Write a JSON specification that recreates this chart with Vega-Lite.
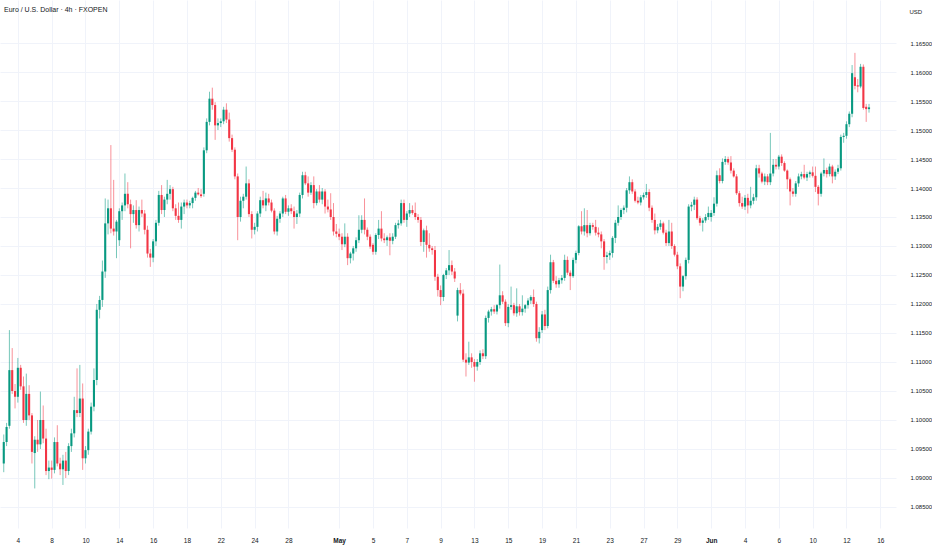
{
  "$schema": "https://vega.github.io/schema/vega-lite/v6.json",
  "width": 896,
  "height": 528,
  "autosize": "none",
  "padding": {"left": 0, "top": 0, "right": 36, "bottom": 22},
  "background": "#ffffff",
  "title": {
    "text": "Euro / U.S. Dollar · 4h · FXOPEN",
    "anchor": "start",
    "frame": "group",
    "orient": "top",
    "font": "Liberation Sans Narrow, Liberation Sans, sans-serif",
    "fontSize": 7,
    "fontWeight": "normal",
    "color": "#131722",
    "baseline": "middle",
    "offset": -17,
    "dx": 4
  },
  "config": {
    "view": {"stroke": null},
    "axis": {
      "labelFont": "Liberation Sans Narrow, Liberation Sans, sans-serif",
      "titleFont": "Liberation Sans Narrow, Liberation Sans, sans-serif",
      "labelFontSize": 6.5,
      "labelColor": "#131722",
      "gridColor": "#f0f3fa",
      "gridWidth": 1,
      "ticks": false,
      "domain": false
    }
  },
  "data": {
    "values": [
      {"i": -5, "o": 1.0925, "h": 1.0975, "l": 1.0910, "c": 1.0962},
      {"i": -4, "o": 1.0962, "h": 1.0995, "l": 1.0955, "c": 1.0988},
      {"i": -3, "o": 1.0990, "h": 1.1155, "l": 1.0985, "c": 1.1086},
      {"i": -2, "o": 1.1086, "h": 1.1124, "l": 1.1045, "c": 1.1050},
      {"i": -1, "o": 1.1050, "h": 1.1062, "l": 1.1020, "c": 1.1040},
      {"i": 0, "o": 1.1040, "h": 1.1107, "l": 1.1030, "c": 1.1090},
      {"i": 1, "o": 1.1090, "h": 1.1095, "l": 1.1052, "c": 1.1058},
      {"i": 2, "o": 1.1058, "h": 1.1075, "l": 1.0995, "c": 1.1000},
      {"i": 3, "o": 1.1000, "h": 1.1080, "l": 1.0990, "c": 1.1045},
      {"i": 4, "o": 1.1045, "h": 1.1060, "l": 1.1000, "c": 1.1008},
      {"i": 5, "o": 1.1008, "h": 1.1012, "l": 1.0925, "c": 1.0945},
      {"i": 6, "o": 1.0943, "h": 1.0972, "l": 1.0882, "c": 1.0966},
      {"i": 7, "o": 1.0966, "h": 1.1000, "l": 1.0945, "c": 1.0958},
      {"i": 8, "o": 1.0958, "h": 1.1049, "l": 1.0950, "c": 1.1000},
      {"i": 9, "o": 1.1000, "h": 1.1025, "l": 1.0960, "c": 1.0968},
      {"i": 10, "o": 1.0968, "h": 1.0985, "l": 1.0905, "c": 1.0912},
      {"i": 11, "o": 1.0912, "h": 1.0930, "l": 1.0898, "c": 1.0918},
      {"i": 12, "o": 1.0918, "h": 1.0930, "l": 1.0899, "c": 1.0914},
      {"i": 13, "o": 1.0914, "h": 1.0970, "l": 1.0908, "c": 1.0962},
      {"i": 14, "o": 1.0962, "h": 1.0991, "l": 1.0920, "c": 1.0925},
      {"i": 15, "o": 1.0925, "h": 1.0935, "l": 1.0905, "c": 1.0915},
      {"i": 16, "o": 1.0915, "h": 1.0940, "l": 1.0888, "c": 1.0930},
      {"i": 17, "o": 1.0930, "h": 1.0945, "l": 1.0900, "c": 1.0912},
      {"i": 18, "o": 1.0912, "h": 1.0960, "l": 1.0905, "c": 1.0955},
      {"i": 19, "o": 1.0955, "h": 1.0985, "l": 1.0945, "c": 1.0977},
      {"i": 20, "o": 1.0977, "h": 1.1040, "l": 1.0970, "c": 1.1017},
      {"i": 21, "o": 1.1017, "h": 1.1089, "l": 1.1005, "c": 1.1012},
      {"i": 22, "o": 1.1012, "h": 1.1095, "l": 1.1005, "c": 1.1037},
      {"i": 23, "o": 1.1037, "h": 1.1063, "l": 1.0914, "c": 1.0934},
      {"i": 24, "o": 1.0934, "h": 1.0955, "l": 1.0925, "c": 1.0948},
      {"i": 25, "o": 1.0948, "h": 1.0985, "l": 1.0940, "c": 1.0980},
      {"i": 26, "o": 1.0980, "h": 1.1030, "l": 1.0975, "c": 1.1023},
      {"i": 27, "o": 1.1023, "h": 1.1089, "l": 1.1015, "c": 1.1069},
      {"i": 28, "o": 1.1069, "h": 1.1200, "l": 1.1060, "c": 1.1190},
      {"i": 29, "o": 1.1190, "h": 1.1214, "l": 1.1175, "c": 1.1207},
      {"i": 30, "o": 1.1207, "h": 1.1275, "l": 1.1195, "c": 1.1256},
      {"i": 31, "o": 1.1256, "h": 1.1382, "l": 1.1245, "c": 1.1339},
      {"i": 32, "o": 1.1339, "h": 1.1380, "l": 1.1320, "c": 1.1365},
      {"i": 33, "o": 1.1365, "h": 1.1474, "l": 1.1322, "c": 1.1330},
      {"i": 34, "o": 1.1330, "h": 1.1414, "l": 1.1318, "c": 1.1325},
      {"i": 35, "o": 1.1325, "h": 1.1345, "l": 1.1279, "c": 1.1342},
      {"i": 36, "o": 1.1310, "h": 1.1365, "l": 1.1300, "c": 1.1360},
      {"i": 37, "o": 1.1360, "h": 1.1375, "l": 1.1345, "c": 1.1370},
      {"i": 38, "o": 1.1370, "h": 1.1425, "l": 1.1360, "c": 1.1390},
      {"i": 39, "o": 1.1390, "h": 1.1410, "l": 1.1365, "c": 1.1372},
      {"i": 40, "o": 1.1372, "h": 1.1380, "l": 1.1296, "c": 1.1355},
      {"i": 41, "o": 1.1355, "h": 1.1370, "l": 1.1340, "c": 1.1362},
      {"i": 42, "o": 1.1362, "h": 1.1379, "l": 1.1330, "c": 1.1336},
      {"i": 43, "o": 1.1336, "h": 1.1368, "l": 1.1325, "c": 1.1362},
      {"i": 44, "o": 1.1362, "h": 1.1380, "l": 1.1350, "c": 1.1356},
      {"i": 45, "o": 1.1356, "h": 1.1362, "l": 1.1320, "c": 1.1328},
      {"i": 46, "o": 1.1328, "h": 1.1335, "l": 1.1280, "c": 1.1287},
      {"i": 47, "o": 1.1287, "h": 1.1295, "l": 1.1264, "c": 1.1280},
      {"i": 48, "o": 1.1280, "h": 1.1312, "l": 1.1272, "c": 1.1308},
      {"i": 49, "o": 1.1308, "h": 1.1345, "l": 1.1300, "c": 1.1340},
      {"i": 50, "o": 1.1340, "h": 1.1395, "l": 1.1335, "c": 1.1388},
      {"i": 51, "o": 1.1388, "h": 1.1405, "l": 1.1355, "c": 1.1362},
      {"i": 52, "o": 1.1362, "h": 1.1385, "l": 1.1350, "c": 1.1380},
      {"i": 53, "o": 1.1380, "h": 1.1414, "l": 1.1372, "c": 1.1390},
      {"i": 54, "o": 1.1390, "h": 1.1405, "l": 1.1380, "c": 1.1398},
      {"i": 55, "o": 1.1398, "h": 1.1402, "l": 1.1360, "c": 1.1365},
      {"i": 56, "o": 1.1365, "h": 1.1372, "l": 1.1345, "c": 1.1352},
      {"i": 57, "o": 1.1352, "h": 1.1375, "l": 1.1340, "c": 1.1345},
      {"i": 58, "o": 1.1345, "h": 1.1375, "l": 1.1330, "c": 1.1368},
      {"i": 59, "o": 1.1368, "h": 1.1380, "l": 1.1355, "c": 1.1375},
      {"i": 60, "o": 1.1375, "h": 1.1380, "l": 1.1365, "c": 1.1370},
      {"i": 61, "o": 1.1370, "h": 1.1378, "l": 1.1365, "c": 1.1374},
      {"i": 62, "o": 1.1374, "h": 1.1385, "l": 1.1365, "c": 1.1383},
      {"i": 63, "o": 1.1383, "h": 1.1395, "l": 1.1378, "c": 1.1392},
      {"i": 64, "o": 1.1392, "h": 1.1400, "l": 1.1387, "c": 1.1389},
      {"i": 65, "o": 1.1389, "h": 1.1398, "l": 1.1383, "c": 1.1386},
      {"i": 66, "o": 1.1390, "h": 1.1470, "l": 1.1385, "c": 1.1465},
      {"i": 67, "o": 1.1465, "h": 1.1520, "l": 1.1460, "c": 1.1514},
      {"i": 68, "o": 1.1514, "h": 1.1566, "l": 1.1508, "c": 1.1554},
      {"i": 69, "o": 1.1554, "h": 1.1573, "l": 1.1535, "c": 1.1543},
      {"i": 70, "o": 1.1543, "h": 1.1548, "l": 1.1483, "c": 1.1508},
      {"i": 71, "o": 1.1508, "h": 1.1520, "l": 1.1500, "c": 1.1512},
      {"i": 72, "o": 1.1512, "h": 1.1520, "l": 1.1505, "c": 1.1515},
      {"i": 73, "o": 1.1515, "h": 1.1540, "l": 1.1510, "c": 1.1535},
      {"i": 74, "o": 1.1535, "h": 1.1546, "l": 1.1512, "c": 1.1518},
      {"i": 75, "o": 1.1518, "h": 1.1530, "l": 1.1480, "c": 1.1486},
      {"i": 76, "o": 1.1486, "h": 1.1492, "l": 1.1462, "c": 1.1466},
      {"i": 77, "o": 1.1466, "h": 1.1470, "l": 1.1415, "c": 1.1420},
      {"i": 78, "o": 1.1420, "h": 1.1425, "l": 1.1310, "c": 1.1350},
      {"i": 79, "o": 1.1350, "h": 1.1385, "l": 1.1342, "c": 1.1378},
      {"i": 80, "o": 1.1378, "h": 1.1390, "l": 1.1365, "c": 1.1385},
      {"i": 81, "o": 1.1385, "h": 1.1437, "l": 1.1380, "c": 1.1408},
      {"i": 82, "o": 1.1408, "h": 1.1415, "l": 1.1350, "c": 1.1355},
      {"i": 83, "o": 1.1355, "h": 1.1360, "l": 1.1313, "c": 1.1328},
      {"i": 84, "o": 1.1328, "h": 1.1340, "l": 1.1320, "c": 1.1333},
      {"i": 85, "o": 1.1333, "h": 1.1360, "l": 1.1325, "c": 1.1356},
      {"i": 86, "o": 1.1356, "h": 1.1385, "l": 1.1350, "c": 1.1379},
      {"i": 87, "o": 1.1379, "h": 1.1395, "l": 1.1365, "c": 1.1370},
      {"i": 88, "o": 1.1370, "h": 1.1392, "l": 1.1360, "c": 1.1382},
      {"i": 89, "o": 1.1382, "h": 1.1390, "l": 1.1370, "c": 1.1375},
      {"i": 90, "o": 1.1375, "h": 1.1380, "l": 1.1358, "c": 1.1361},
      {"i": 91, "o": 1.1361, "h": 1.1365, "l": 1.1320, "c": 1.1325},
      {"i": 92, "o": 1.1325, "h": 1.1352, "l": 1.1318, "c": 1.1347},
      {"i": 93, "o": 1.1347, "h": 1.1360, "l": 1.1340, "c": 1.1356},
      {"i": 94, "o": 1.1356, "h": 1.1385, "l": 1.1350, "c": 1.1382},
      {"i": 95, "o": 1.1382, "h": 1.1388, "l": 1.1355, "c": 1.1359},
      {"i": 96, "o": 1.1359, "h": 1.1370, "l": 1.1352, "c": 1.1365},
      {"i": 97, "o": 1.1365, "h": 1.1372, "l": 1.1355, "c": 1.1360},
      {"i": 98, "o": 1.1360, "h": 1.1368, "l": 1.1330, "c": 1.1350},
      {"i": 99, "o": 1.1350, "h": 1.1362, "l": 1.1338, "c": 1.1356},
      {"i": 100, "o": 1.1356, "h": 1.1392, "l": 1.1350, "c": 1.1388},
      {"i": 101, "o": 1.1388, "h": 1.1428, "l": 1.1382, "c": 1.1422},
      {"i": 102, "o": 1.1422, "h": 1.1428, "l": 1.1405, "c": 1.1408},
      {"i": 103, "o": 1.1408, "h": 1.1420, "l": 1.1385, "c": 1.1392},
      {"i": 104, "o": 1.1392, "h": 1.1410, "l": 1.1388, "c": 1.1405},
      {"i": 105, "o": 1.1405, "h": 1.1420, "l": 1.1365, "c": 1.1374},
      {"i": 106, "o": 1.1374, "h": 1.1398, "l": 1.1370, "c": 1.1394},
      {"i": 107, "o": 1.1394, "h": 1.1405, "l": 1.1375, "c": 1.1380},
      {"i": 108, "o": 1.1380, "h": 1.1400, "l": 1.1372, "c": 1.1394},
      {"i": 109, "o": 1.1394, "h": 1.1398, "l": 1.1356, "c": 1.1368},
      {"i": 110, "o": 1.1368, "h": 1.1380, "l": 1.1358, "c": 1.1363},
      {"i": 111, "o": 1.1363, "h": 1.1391, "l": 1.1345, "c": 1.1350},
      {"i": 112, "o": 1.1350, "h": 1.1374, "l": 1.1318, "c": 1.1325},
      {"i": 113, "o": 1.1325, "h": 1.1338, "l": 1.1315, "c": 1.1321},
      {"i": 114, "o": 1.1321, "h": 1.1330, "l": 1.1310, "c": 1.1316},
      {"i": 115, "o": 1.1316, "h": 1.1322, "l": 1.1293, "c": 1.1303},
      {"i": 116, "o": 1.1303, "h": 1.1339, "l": 1.1298, "c": 1.1316},
      {"i": 117, "o": 1.1316, "h": 1.1322, "l": 1.1267, "c": 1.1279},
      {"i": 118, "o": 1.1279, "h": 1.1290, "l": 1.1270, "c": 1.1287},
      {"i": 119, "o": 1.1287, "h": 1.1300, "l": 1.1275, "c": 1.1296},
      {"i": 120, "o": 1.1296, "h": 1.1315, "l": 1.1290, "c": 1.1310},
      {"i": 121, "o": 1.1310, "h": 1.1353, "l": 1.1305, "c": 1.1328},
      {"i": 122, "o": 1.1328, "h": 1.1353, "l": 1.1322, "c": 1.1345},
      {"i": 123, "o": 1.1345, "h": 1.1382, "l": 1.1320, "c": 1.1328},
      {"i": 124, "o": 1.1328, "h": 1.1332, "l": 1.1310, "c": 1.1316},
      {"i": 125, "o": 1.1316, "h": 1.1320, "l": 1.1295, "c": 1.1299},
      {"i": 126, "o": 1.1302, "h": 1.1305, "l": 1.1285, "c": 1.1290},
      {"i": 127, "o": 1.1290, "h": 1.1322, "l": 1.1285, "c": 1.1319},
      {"i": 128, "o": 1.1319, "h": 1.1345, "l": 1.1312, "c": 1.1330},
      {"i": 129, "o": 1.1330, "h": 1.1360, "l": 1.1308, "c": 1.1313},
      {"i": 130, "o": 1.1313, "h": 1.1322, "l": 1.1305, "c": 1.1310},
      {"i": 131, "o": 1.1310, "h": 1.1318, "l": 1.1300, "c": 1.1315},
      {"i": 132, "o": 1.1315, "h": 1.1322, "l": 1.1284, "c": 1.1309},
      {"i": 133, "o": 1.1309, "h": 1.1322, "l": 1.1303, "c": 1.1316},
      {"i": 134, "o": 1.1316, "h": 1.1340, "l": 1.1312, "c": 1.1336},
      {"i": 135, "o": 1.1336, "h": 1.1345, "l": 1.1330, "c": 1.1339},
      {"i": 136, "o": 1.1339, "h": 1.1380, "l": 1.1335, "c": 1.1374},
      {"i": 137, "o": 1.1374, "h": 1.1380, "l": 1.1340, "c": 1.1345},
      {"i": 138, "o": 1.1345, "h": 1.1360, "l": 1.1333, "c": 1.1356},
      {"i": 139, "o": 1.1356, "h": 1.1374, "l": 1.1350, "c": 1.1362},
      {"i": 140, "o": 1.1362, "h": 1.1370, "l": 1.1354, "c": 1.1357},
      {"i": 141, "o": 1.1357, "h": 1.1375, "l": 1.1345, "c": 1.1350},
      {"i": 142, "o": 1.1350, "h": 1.1355, "l": 1.1340, "c": 1.1345},
      {"i": 143, "o": 1.1345, "h": 1.1350, "l": 1.1300, "c": 1.1307},
      {"i": 144, "o": 1.1307, "h": 1.1330, "l": 1.1290, "c": 1.1327},
      {"i": 145, "o": 1.1327, "h": 1.1335, "l": 1.1280, "c": 1.1302},
      {"i": 146, "o": 1.1302, "h": 1.1322, "l": 1.1290, "c": 1.1296},
      {"i": 147, "o": 1.1296, "h": 1.1300, "l": 1.1285, "c": 1.1293},
      {"i": 148, "o": 1.1293, "h": 1.1300, "l": 1.1240, "c": 1.1247},
      {"i": 149, "o": 1.1247, "h": 1.1252, "l": 1.1213, "c": 1.1224},
      {"i": 150, "o": 1.1224, "h": 1.1232, "l": 1.1198, "c": 1.1212},
      {"i": 151, "o": 1.1212, "h": 1.1252, "l": 1.1205, "c": 1.1250},
      {"i": 152, "o": 1.1250, "h": 1.1262, "l": 1.1243, "c": 1.1258},
      {"i": 153, "o": 1.1258, "h": 1.1293, "l": 1.1250, "c": 1.1267},
      {"i": 154, "o": 1.1267, "h": 1.1275, "l": 1.1250, "c": 1.1256},
      {"i": 155, "o": 1.1256, "h": 1.1262, "l": 1.1238, "c": 1.1244},
      {"i": 156, "o": 1.1180, "h": 1.1228, "l": 1.1170, "c": 1.1224},
      {"i": 157, "o": 1.1224, "h": 1.1236, "l": 1.1215, "c": 1.1218},
      {"i": 158, "o": 1.1218, "h": 1.1225, "l": 1.1100, "c": 1.1104},
      {"i": 159, "o": 1.1104, "h": 1.1115, "l": 1.1075, "c": 1.1099},
      {"i": 160, "o": 1.1099, "h": 1.1135, "l": 1.1095, "c": 1.1108},
      {"i": 161, "o": 1.1108, "h": 1.1115, "l": 1.1090, "c": 1.1100},
      {"i": 162, "o": 1.1100, "h": 1.1105, "l": 1.1066, "c": 1.1092},
      {"i": 163, "o": 1.1092, "h": 1.1105, "l": 1.1085, "c": 1.1100},
      {"i": 164, "o": 1.1100, "h": 1.1120, "l": 1.1095, "c": 1.1115},
      {"i": 165, "o": 1.1115, "h": 1.1122, "l": 1.1105, "c": 1.1110},
      {"i": 166, "o": 1.1110, "h": 1.1180, "l": 1.1105, "c": 1.1176},
      {"i": 167, "o": 1.1176, "h": 1.1190, "l": 1.1168, "c": 1.1187},
      {"i": 168, "o": 1.1187, "h": 1.1195, "l": 1.1180, "c": 1.1191},
      {"i": 169, "o": 1.1191, "h": 1.1198, "l": 1.1183, "c": 1.1187},
      {"i": 170, "o": 1.1187, "h": 1.1200, "l": 1.1182, "c": 1.1198},
      {"i": 171, "o": 1.1198, "h": 1.1268, "l": 1.1192, "c": 1.1215},
      {"i": 172, "o": 1.1215, "h": 1.1222, "l": 1.1200, "c": 1.1204},
      {"i": 173, "o": 1.1204, "h": 1.1208, "l": 1.1162, "c": 1.1167},
      {"i": 174, "o": 1.1167, "h": 1.1200, "l": 1.1160, "c": 1.1195},
      {"i": 175, "o": 1.1195, "h": 1.1230, "l": 1.1190, "c": 1.1198},
      {"i": 176, "o": 1.1198, "h": 1.1202, "l": 1.1180, "c": 1.1184},
      {"i": 177, "o": 1.1184, "h": 1.1227, "l": 1.1178, "c": 1.1196},
      {"i": 178, "o": 1.1196, "h": 1.1200, "l": 1.1180, "c": 1.1186},
      {"i": 179, "o": 1.1186, "h": 1.1215, "l": 1.1180, "c": 1.1192},
      {"i": 180, "o": 1.1192, "h": 1.1200, "l": 1.1185, "c": 1.1198},
      {"i": 181, "o": 1.1198, "h": 1.1210, "l": 1.1192, "c": 1.1206},
      {"i": 182, "o": 1.1206, "h": 1.1215, "l": 1.1200, "c": 1.1212},
      {"i": 183, "o": 1.1212, "h": 1.1225, "l": 1.1195, "c": 1.1200},
      {"i": 184, "o": 1.1200, "h": 1.1204, "l": 1.1135, "c": 1.1141},
      {"i": 185, "o": 1.1141, "h": 1.1160, "l": 1.1132, "c": 1.1152},
      {"i": 186, "o": 1.1155, "h": 1.1188, "l": 1.1150, "c": 1.1182},
      {"i": 187, "o": 1.1182, "h": 1.1190, "l": 1.1155, "c": 1.1162},
      {"i": 188, "o": 1.1162, "h": 1.1230, "l": 1.1158, "c": 1.1224},
      {"i": 189, "o": 1.1224, "h": 1.1285, "l": 1.1218, "c": 1.1272},
      {"i": 190, "o": 1.1272, "h": 1.1276, "l": 1.1236, "c": 1.1240},
      {"i": 191, "o": 1.1240, "h": 1.1248, "l": 1.1228, "c": 1.1234},
      {"i": 192, "o": 1.1234, "h": 1.1245, "l": 1.1228, "c": 1.1241},
      {"i": 193, "o": 1.1241, "h": 1.1250, "l": 1.1235, "c": 1.1245},
      {"i": 194, "o": 1.1245, "h": 1.1285, "l": 1.1240, "c": 1.1276},
      {"i": 195, "o": 1.1276, "h": 1.1282, "l": 1.1250, "c": 1.1254},
      {"i": 196, "o": 1.1254, "h": 1.1258, "l": 1.1224, "c": 1.1248},
      {"i": 197, "o": 1.1248, "h": 1.1280, "l": 1.1245, "c": 1.1276},
      {"i": 198, "o": 1.1276, "h": 1.1292, "l": 1.1270, "c": 1.1288},
      {"i": 199, "o": 1.1288, "h": 1.1336, "l": 1.1284, "c": 1.1334},
      {"i": 200, "o": 1.1334, "h": 1.1360, "l": 1.1320, "c": 1.1325},
      {"i": 201, "o": 1.1325, "h": 1.1365, "l": 1.1318, "c": 1.1336},
      {"i": 202, "o": 1.1336, "h": 1.1362, "l": 1.1315, "c": 1.1322},
      {"i": 203, "o": 1.1322, "h": 1.1340, "l": 1.1318, "c": 1.1336},
      {"i": 204, "o": 1.1336, "h": 1.1340, "l": 1.1328, "c": 1.1333},
      {"i": 205, "o": 1.1333, "h": 1.1345, "l": 1.1318, "c": 1.1323},
      {"i": 206, "o": 1.1323, "h": 1.1332, "l": 1.1315, "c": 1.1320},
      {"i": 207, "o": 1.1320, "h": 1.1325, "l": 1.1296, "c": 1.1308},
      {"i": 208, "o": 1.1308, "h": 1.1312, "l": 1.1259, "c": 1.1281},
      {"i": 209, "o": 1.1281, "h": 1.1290, "l": 1.1270, "c": 1.1284},
      {"i": 210, "o": 1.1284, "h": 1.1292, "l": 1.1276, "c": 1.1288},
      {"i": 211, "o": 1.1288, "h": 1.1317, "l": 1.1280, "c": 1.1314},
      {"i": 212, "o": 1.1314, "h": 1.1345, "l": 1.1305, "c": 1.1340},
      {"i": 213, "o": 1.1340, "h": 1.1370, "l": 1.1335, "c": 1.1350},
      {"i": 214, "o": 1.1350, "h": 1.1365, "l": 1.1345, "c": 1.1362},
      {"i": 215, "o": 1.1362, "h": 1.1370, "l": 1.1355, "c": 1.1366},
      {"i": 216, "o": 1.1366, "h": 1.1400, "l": 1.1358, "c": 1.1396},
      {"i": 217, "o": 1.1396, "h": 1.1420, "l": 1.1390, "c": 1.1410},
      {"i": 218, "o": 1.1410, "h": 1.1415, "l": 1.1390, "c": 1.1394},
      {"i": 219, "o": 1.1394, "h": 1.1398, "l": 1.1375, "c": 1.1378},
      {"i": 220, "o": 1.1378, "h": 1.1385, "l": 1.1372, "c": 1.1375},
      {"i": 221, "o": 1.1375, "h": 1.1388, "l": 1.1370, "c": 1.1384},
      {"i": 222, "o": 1.1384, "h": 1.1392, "l": 1.1380, "c": 1.1388},
      {"i": 223, "o": 1.1388, "h": 1.1407, "l": 1.1383, "c": 1.1393},
      {"i": 224, "o": 1.1393, "h": 1.1398, "l": 1.1360, "c": 1.1366},
      {"i": 225, "o": 1.1366, "h": 1.1370, "l": 1.1340, "c": 1.1345},
      {"i": 226, "o": 1.1345, "h": 1.1356, "l": 1.1320, "c": 1.1327},
      {"i": 227, "o": 1.1327, "h": 1.1338, "l": 1.1322, "c": 1.1333},
      {"i": 228, "o": 1.1333, "h": 1.1345, "l": 1.1328, "c": 1.1339},
      {"i": 229, "o": 1.1339, "h": 1.1342, "l": 1.1320, "c": 1.1323},
      {"i": 230, "o": 1.1323, "h": 1.1328, "l": 1.1300, "c": 1.1305},
      {"i": 231, "o": 1.1305, "h": 1.1345, "l": 1.1300, "c": 1.1325},
      {"i": 232, "o": 1.1325, "h": 1.1340, "l": 1.1295, "c": 1.1300},
      {"i": 233, "o": 1.1300, "h": 1.1303, "l": 1.1282, "c": 1.1285},
      {"i": 234, "o": 1.1285, "h": 1.1290, "l": 1.1260, "c": 1.1265},
      {"i": 235, "o": 1.1265, "h": 1.1270, "l": 1.1210, "c": 1.1230},
      {"i": 236, "o": 1.1230, "h": 1.1250, "l": 1.1222, "c": 1.1248},
      {"i": 237, "o": 1.1248, "h": 1.1280, "l": 1.1242, "c": 1.1276},
      {"i": 238, "o": 1.1276, "h": 1.1372, "l": 1.1270, "c": 1.1368},
      {"i": 239, "o": 1.1368, "h": 1.1376, "l": 1.1360, "c": 1.1371},
      {"i": 240, "o": 1.1371, "h": 1.1385, "l": 1.1362, "c": 1.1380},
      {"i": 241, "o": 1.1380, "h": 1.1384, "l": 1.1345, "c": 1.1348},
      {"i": 242, "o": 1.1348, "h": 1.1352, "l": 1.1335, "c": 1.1340},
      {"i": 243, "o": 1.1340, "h": 1.1348, "l": 1.1325, "c": 1.1344},
      {"i": 244, "o": 1.1344, "h": 1.1355, "l": 1.1340, "c": 1.1350},
      {"i": 245, "o": 1.1350, "h": 1.1368, "l": 1.1345, "c": 1.1357},
      {"i": 246, "o": 1.1350, "h": 1.1362, "l": 1.1342, "c": 1.1357},
      {"i": 247, "o": 1.1357, "h": 1.1384, "l": 1.1352, "c": 1.1373},
      {"i": 248, "o": 1.1373, "h": 1.1430, "l": 1.1368, "c": 1.1422},
      {"i": 249, "o": 1.1422, "h": 1.1434, "l": 1.1408, "c": 1.1412},
      {"i": 250, "o": 1.1412, "h": 1.1451, "l": 1.1408, "c": 1.1445},
      {"i": 251, "o": 1.1445, "h": 1.1455, "l": 1.1440, "c": 1.1450},
      {"i": 252, "o": 1.1450, "h": 1.1454, "l": 1.1440, "c": 1.1444},
      {"i": 253, "o": 1.1444, "h": 1.1455, "l": 1.1425, "c": 1.1430},
      {"i": 254, "o": 1.1430, "h": 1.1434, "l": 1.1418, "c": 1.1420},
      {"i": 255, "o": 1.1420, "h": 1.1424, "l": 1.1388, "c": 1.1391},
      {"i": 256, "o": 1.1391, "h": 1.1395, "l": 1.1368, "c": 1.1374},
      {"i": 257, "o": 1.1374, "h": 1.1385, "l": 1.1364, "c": 1.1368},
      {"i": 258, "o": 1.1368, "h": 1.1388, "l": 1.1362, "c": 1.1383},
      {"i": 259, "o": 1.1383, "h": 1.1390, "l": 1.1356, "c": 1.1370},
      {"i": 260, "o": 1.1370, "h": 1.1402, "l": 1.1365, "c": 1.1378},
      {"i": 261, "o": 1.1378, "h": 1.1390, "l": 1.1372, "c": 1.1384},
      {"i": 262, "o": 1.1384, "h": 1.1440, "l": 1.1378, "c": 1.1434},
      {"i": 263, "o": 1.1434, "h": 1.1440, "l": 1.1418, "c": 1.1425},
      {"i": 264, "o": 1.1425, "h": 1.1428, "l": 1.1408, "c": 1.1411},
      {"i": 265, "o": 1.1411, "h": 1.1425, "l": 1.1405, "c": 1.1420},
      {"i": 266, "o": 1.1420, "h": 1.1424, "l": 1.1405, "c": 1.1410},
      {"i": 267, "o": 1.1410, "h": 1.1495, "l": 1.1405, "c": 1.1425},
      {"i": 268, "o": 1.1425, "h": 1.1450, "l": 1.1420, "c": 1.1440},
      {"i": 269, "o": 1.1440, "h": 1.1450, "l": 1.1432, "c": 1.1437},
      {"i": 270, "o": 1.1437, "h": 1.1457, "l": 1.1432, "c": 1.1454},
      {"i": 271, "o": 1.1454, "h": 1.1458, "l": 1.1438, "c": 1.1443},
      {"i": 272, "o": 1.1443, "h": 1.1446, "l": 1.1428, "c": 1.1430},
      {"i": 273, "o": 1.1430, "h": 1.1432, "l": 1.1398, "c": 1.1415},
      {"i": 274, "o": 1.1415, "h": 1.1418, "l": 1.1370, "c": 1.1394},
      {"i": 275, "o": 1.1394, "h": 1.1400, "l": 1.1385, "c": 1.1390},
      {"i": 276, "o": 1.1390, "h": 1.1412, "l": 1.1385, "c": 1.1408},
      {"i": 277, "o": 1.1408, "h": 1.1425, "l": 1.1402, "c": 1.1420},
      {"i": 278, "o": 1.1420, "h": 1.1428, "l": 1.1415, "c": 1.1424},
      {"i": 279, "o": 1.1424, "h": 1.1440, "l": 1.1415, "c": 1.1418},
      {"i": 280, "o": 1.1418, "h": 1.1428, "l": 1.1412, "c": 1.1424},
      {"i": 281, "o": 1.1424, "h": 1.1430, "l": 1.1418, "c": 1.1427},
      {"i": 282, "o": 1.1427, "h": 1.1437, "l": 1.1418, "c": 1.1421},
      {"i": 283, "o": 1.1421, "h": 1.1437, "l": 1.1393, "c": 1.1402},
      {"i": 284, "o": 1.1402, "h": 1.1405, "l": 1.1370, "c": 1.1390},
      {"i": 285, "o": 1.1390, "h": 1.1428, "l": 1.1385, "c": 1.1425},
      {"i": 286, "o": 1.1425, "h": 1.1451, "l": 1.1420, "c": 1.1431},
      {"i": 287, "o": 1.1431, "h": 1.1435, "l": 1.1418, "c": 1.1424},
      {"i": 288, "o": 1.1424, "h": 1.1442, "l": 1.1420, "c": 1.1437},
      {"i": 289, "o": 1.1437, "h": 1.1440, "l": 1.1408, "c": 1.1420},
      {"i": 290, "o": 1.1420, "h": 1.1432, "l": 1.1414, "c": 1.1428},
      {"i": 291, "o": 1.1428, "h": 1.1440, "l": 1.1424, "c": 1.1434},
      {"i": 292, "o": 1.1434, "h": 1.1492, "l": 1.1430, "c": 1.1488},
      {"i": 293, "o": 1.1488, "h": 1.1495, "l": 1.1478, "c": 1.1490},
      {"i": 294, "o": 1.1490, "h": 1.1515, "l": 1.1485, "c": 1.1510},
      {"i": 295, "o": 1.1510, "h": 1.1532, "l": 1.1505, "c": 1.1528},
      {"i": 296, "o": 1.1528, "h": 1.1612, "l": 1.1522, "c": 1.1598},
      {"i": 297, "o": 1.1591, "h": 1.1633, "l": 1.1570, "c": 1.1576},
      {"i": 298, "o": 1.1577, "h": 1.1588, "l": 1.1565, "c": 1.1575},
      {"i": 299, "o": 1.1575, "h": 1.1614, "l": 1.1572, "c": 1.1609},
      {"i": 300, "o": 1.1609, "h": 1.1613, "l": 1.1535, "c": 1.1538},
      {"i": 301, "o": 1.1540, "h": 1.1545, "l": 1.1514, "c": 1.1536},
      {"i": 302, "o": 1.1536, "h": 1.1545, "l": 1.1530, "c": 1.1539}
    ]
  },
  "encoding": {
    "x": {
      "field": "i",
      "type": "quantitative",
      "scale": {"domain": [-4.56, 309.8], "nice": false, "zero": false},
      "axis": {
        "title": null,
        "orient": "bottom",
        "values": [0, 12, 24, 36, 48, 60, 72, 84, 96, 114, 126, 138, 150, 162, 174, 186, 198, 210, 222, 234, 246, 258, 270, 282, 294, 306],
        "tickCount": 40,
        "labelExpr": "['4','8','10','14','16','18','22','24','28','May','5','7','9','13','15','19','21','23','27','29','Jun','4','6','10','12','16'][indexof([0,12,24,36,48,60,72,84,96,114,126,138,150,162,174,186,198,210,222,234,246,258,270,282,294,306], datum.value)]",
        "labelFontWeight": {"condition": {"test": "datum.value == 114 || datum.value == 246", "value": "bold"}, "value": "normal"},
        "labelPadding": 9,
        "labelOverlap": false,
        "labelFlush": false,
        "grid": true
      }
    }
  },
  "layer": [
    {
      "mark": {"type": "rule", "strokeWidth": 1, "opacity": 0.55, "clip": true},
      "encoding": {
        "y": {
          "field": "l",
          "type": "quantitative",
          "scale": {"domain": [1.081379, 1.172414], "nice": false, "zero": false},
          "axis": {
            "orient": "right",
            "values": [1.085, 1.09, 1.095, 1.1, 1.105, 1.11, 1.115, 1.12, 1.125, 1.13, 1.135, 1.14, 1.145, 1.15, 1.155, 1.16, 1.165],
            "tickCount": 40,
            "format": ".5f",
            "labelFontSize": 6,
            "labelPadding": 14,
            "labelOverlap": false,
            "labelFlush": false,
            "grid": true,
            "title": "USD",
            "titleAngle": 0,
            "titleAlign": "left",
            "titleBaseline": "middle",
            "titleFontSize": 6,
            "titleFontWeight": "normal",
            "titleColor": "#131722",
            "titleX": 13,
            "titleY": 11
          }
        },
        "y2": {"field": "h"},
        "color": {"condition": {"test": "datum.c >= datum.o", "value": "#089981"}, "value": "#f23645"}
      }
    },
    {
      "mark": {"type": "bar", "width": 2.1, "clip": true},
      "encoding": {
        "y": {"field": "o", "type": "quantitative"},
        "y2": {"field": "c"},
        "color": {"condition": {"test": "datum.c >= datum.o", "value": "#089981"}, "value": "#f23645"}
      }
    }
  ]
}
